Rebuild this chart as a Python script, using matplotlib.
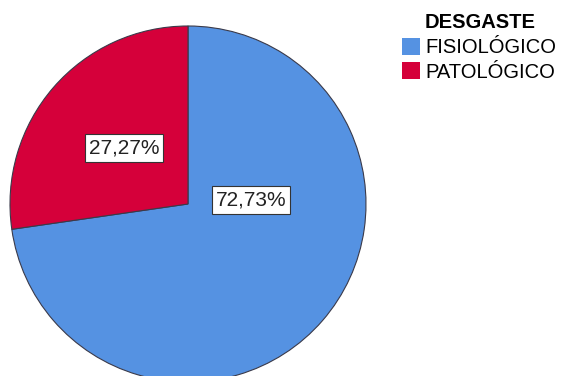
import matplotlib.pyplot as plt
from matplotlib.patches import Patch

categorias = ['FISIOLÓGICO', 'PATOLÓGICO']
porcentajes = [72.73, 27.27]
colores = ['#5592E2', '#D5003A']
etiquetas = ['72,73%', '27,27%']

plt.rcParams['font.family'] = ['Liberation Sans', 'DejaVu Sans']

fig = plt.figure(figsize=(5.63, 3.76), dpi=100)
ax = fig.add_axes([0, 0, 1, 1])

cx, cy, r = 188, 172, 178
wedges, _ = ax.pie(porcentajes, colors=colores, startangle=90, counterclock=False,
                   center=(cx, cy), radius=r, frame=True,
                   wedgeprops=dict(edgecolor='#3a3a4a', linewidth=0.8))
ax.set_xlim(0, 563)
ax.set_ylim(0, 376)
ax.set_aspect('equal')
ax.axis('off')

# etiquetas de porcentaje en cajas blancas
pos = [(cx + 63, cy + 4), (cx - 64, cy + 56)]
for (x, y), txt in zip(pos, etiquetas):
    ax.text(x, y, txt, ha='center', va='center', fontsize=15, color='#222222',
            bbox=dict(boxstyle='square,pad=0.2', facecolor='white',
                      edgecolor='#333333', linewidth=0.8))

# leyenda con título aparte
ax.text(480, 376 - 22, 'DESGASTE', ha='center', va='center', fontsize=14.5,
        fontweight='bold')
handles = [Patch(facecolor=c, edgecolor='none') for c in colores]
leg = ax.legend(handles, categorias, loc='upper left',
                bbox_to_anchor=(402 / 563, 1 - 38 / 376), frameon=False,
                fontsize=14.5, handlelength=0.9, handleheight=0.9,
                handletextpad=0.25, labelspacing=0.25, borderpad=0, borderaxespad=0)

fig.savefig('out.png', dpi=100)
